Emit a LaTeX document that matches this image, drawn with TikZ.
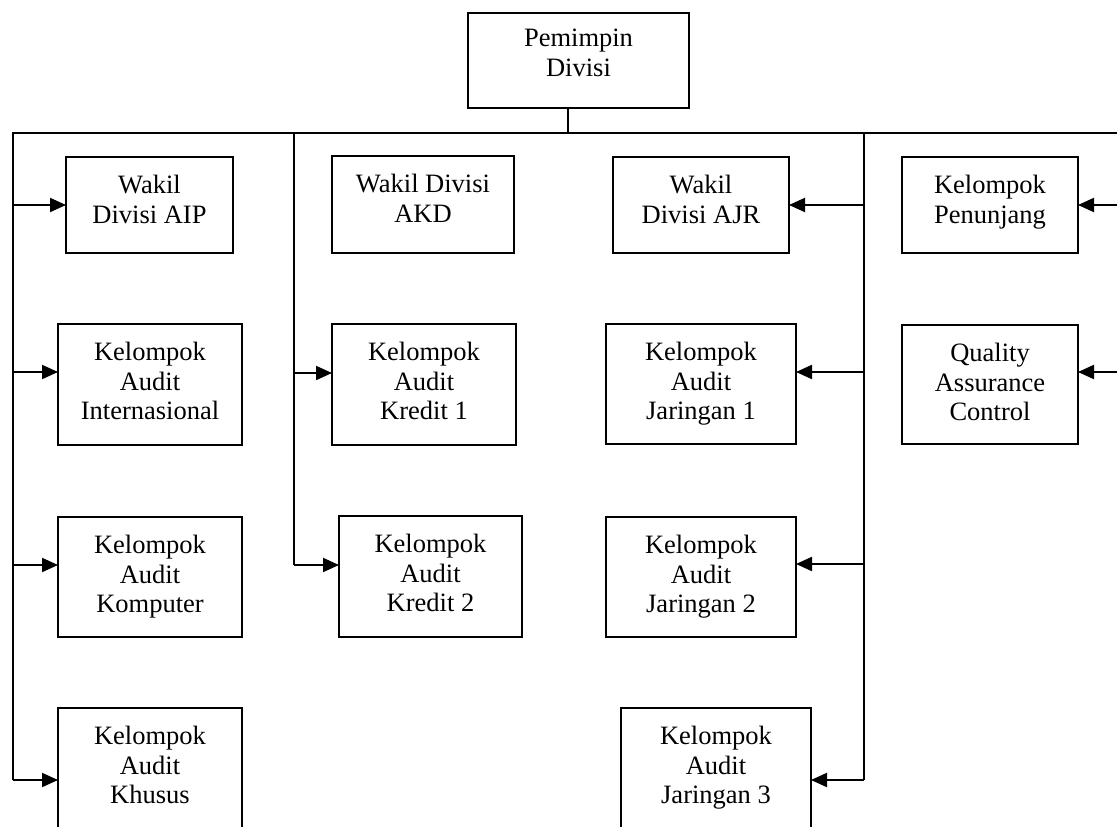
\documentclass[tikz,border=0pt]{standalone}
\usepackage{fontspec}
\setmainfont{Liberation Serif}
\usetikzlibrary{arrows.meta}
\tikzset{
  boxst/.style={draw=black, line width=1.8pt, inner sep=0pt, outer sep=0pt, fill=white},
  txtst/.style={align=center, inner sep=0pt, font=\fontsize{26.5}{29.5}\selectfont},
  busline/.style={line width=2pt},
  arr/.style={line width=2pt, -{Triangle[length=16pt,width=14pt]}}
}
\newcommand\orgbox[7][18]{%
  \node[boxst, anchor=north west, minimum width={#5pt-#3pt}, minimum height={#6pt-#4pt}] (#2) at (#3,#4) {};
  \node[txtst, anchor=north] (#2t) at ([yshift=-#1pt]#2.north) {#7};
}
\begin{document}
\begin{tikzpicture}[x=1pt,y=-1pt]
\useasboundingbox (0,0) rectangle (1117,827);
\fill[white] (0,0) rectangle (1117,827);

% boxes
\orgbox[16]{top}{468}{13}{689}{108}{Pemimpin\\Divisi}
\orgbox{aip}{66}{157}{233}{253}{Wakil\\Divisi AIP}
\orgbox{akd}{332}{156}{514}{253}{Wakil Divisi\\AKD}
\orgbox{ajr}{613}{157}{789}{253}{Wakil\\Divisi AJR}
\orgbox{pen}{902}{157}{1078}{253}{Kelompok\\Penunjang}
\orgbox{int}{58}{324}{242}{445}{Kelompok\\Audit\\Internasional}
\orgbox{krA}{332}{324}{516}{445}{Kelompok\\Audit\\Kredit 1}
\orgbox{jrA}{606}{324}{796}{444}{Kelompok\\Audit\\Jaringan 1}
\orgbox{qac}{902}{325}{1078}{444}{Quality\\Assurance\\Control}
\orgbox{kom}{58}{517}{242}{637}{Kelompok\\Audit\\Komputer}
\orgbox{krB}{339}{516}{522}{637}{Kelompok\\Audit\\Kredit 2}
\orgbox{jrB}{606}{517}{796}{637}{Kelompok\\Audit\\Jaringan 2}
\orgbox{khu}{58}{708}{242}{829}{Kelompok\\Audit\\Khusus}
\orgbox{jrC}{621}{708}{811}{829}{Kelompok\\Audit\\Jaringan 3}

% bus coordinates
\coordinate (hb) at (568,133);
\coordinate (L0) at (13,133);
\coordinate (L1) at (13,205);
\coordinate (L2) at (13,372);
\coordinate (L3) at (13,565);
\coordinate (L4) at (13,780);
\coordinate (M0) at (294,133);
\coordinate (M1) at (294,373);
\coordinate (M2) at (294,565);
\coordinate (R0) at (864,133);
\coordinate (R1) at (864,205);
\coordinate (R2) at (864,372);
\coordinate (R3) at (864,564);
\coordinate (R4) at (864,780);
\coordinate (E0) at (1119,133);
\coordinate (E1) at (1119,205);
\coordinate (E2) at (1119,372);

% lines
\draw[busline] (top.south -| hb) -- (hb);
\draw[busline] (L4) -- (L0) -- (E0) -- (E2);
\draw[busline] (M0) -- (M2);
\draw[busline] (R0) -- (R4);

% arrows
\draw[arr] (L1) -- (aip.west |- L1);
\draw[arr] (L2) -- (int.west |- L2);
\draw[arr] (L3) -- (kom.west |- L3);
\draw[arr] (L4) -- (khu.west |- L4);
\draw[arr] (M1) -- (krA.west |- M1);
\draw[arr] (M2) -- (krB.west |- M2);
\draw[arr] (R1) -- (ajr.east |- R1);
\draw[arr] (R2) -- (jrA.east |- R2);
\draw[arr] (R3) -- (jrB.east |- R3);
\draw[arr] (R4) -- (jrC.east |- R4);
\draw[arr] (E1) -- (pen.east |- E1);
\draw[arr] (E2) -- (qac.east |- E2);
\end{tikzpicture}
\end{document}
